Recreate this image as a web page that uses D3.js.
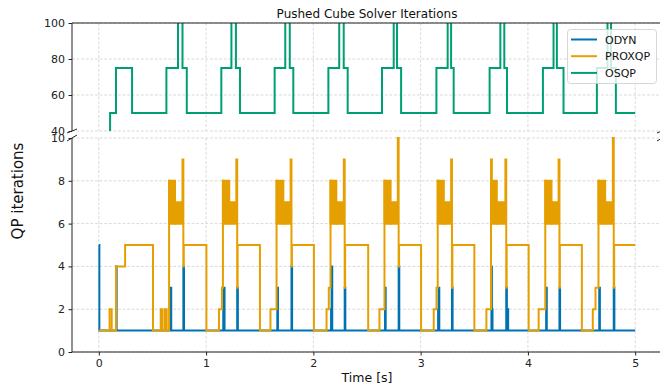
<!DOCTYPE html>
<html><head><meta charset="utf-8">
<script src="https://cdn.jsdelivr.net/npm/d3@7"></script>
<style>body{margin:0;background:#fff}svg{display:block}text{font-family:"DejaVu Sans",sans-serif}</style>
</head><body><svg id="c" width="660" height="383"></svg>
<script>
const title = "Pushed Cube Solver Iterations";
const xLabel = "Time [s]";
const yLabel = "QP iterations";
const seriesNames = ["ODYN", "PROXQP", "OSQP"];
const seriesColors = ["#0072b2", "#e69f00", "#009e73"];
const xTicks = [0, 1, 2, 3, 4, 5];
const topTicks = [40, 60, 80, 100];
const botTicks = [0, 2, 4, 6, 8, 10];

// step change points [time, value]
const odynSteps = [[0,5],[0.005,1],[0.16,4],[0.166,1],[0.665,2],[0.669,3],[0.675,1],[0.788,4],[0.794,1],
 [1.16,2],[1.166,3],[1.172,1],[1.29,3],[1.296,1],[1.664,3],[1.67,1],[1.796,4],[1.802,1],
 [2.165,2],[2.17,4],[2.176,1],[2.292,3],[2.298,1],[2.668,3],[2.674,1],[2.795,4],[2.801,1],
 [3.163,2],[3.168,3],[3.174,1],[3.292,3],[3.298,1],[3.66,4],[3.664,2],[3.67,1],[3.798,3],[3.804,1],[3.81,2],[3.816,1],
 [4.17,3],[4.176,1],[4.294,3],[4.3,1],[4.665,3],[4.671,1],[4.80,3],[4.806,1],[5.0,1]];

const proxqpSteps = [[0,1],[0.10,2],[0.12,1],[0.16,4],[0.245,5],[0.505,1],
 [0.577,2],[0.593,1],[0.615,2],[0.633,1],[0.655,8],[0.66,6],[0.78,9],[0.788,4],[0.792,5],[1.003,1],
 [1.12,2],[1.148,3],[1.157,8],[1.162,6],[1.282,9],[1.29,3],[1.294,5],[1.502,1],
 [1.60,2],[1.657,8],[1.662,6],[1.788,9],[1.796,4],[1.80,5],[2.005,1],
 [2.123,2],[2.144,3],[2.16,8],[2.165,6],[2.284,9],[2.292,3],[2.296,5],[2.511,1],
 [2.616,2],[2.663,8],[2.668,6],[2.787,10],[2.795,4],[2.799,5],[3.004,1],
 [3.122,2],[3.148,3],[3.159,8],[3.164,6],[3.284,9],[3.292,3],[3.296,5],[3.501,1],
 [3.613,2],[3.656,9],[3.664,6],[3.79,9],[3.798,3],[3.802,5],[4.007,1],
 [4.10,2],[4.162,8],[4.167,6],[4.286,9],[4.294,3],[4.298,5],[4.503,1],
 [4.605,2],[4.63,3],[4.658,8],[4.663,6],[4.792,10],[4.80,3],[4.804,5],[5.0,5]];

// rapid oscillation bands of PROXQP: [start, end, low, high]
const proxqpBands = [[0.655,0.71,6,8],[0.71,0.78,6,7],[1.157,1.216,6,8],[1.216,1.282,6,7],
 [1.657,1.72,6,8],[1.72,1.788,6,7],[2.16,2.214,6,8],[2.214,2.284,6,7],
 [2.663,2.72,6,8],[2.72,2.787,6,7],[3.159,3.216,6,8],[3.216,3.284,6,7],
 [3.656,3.71,6,8],[3.71,3.79,6,7],[4.162,4.22,6,8],[4.22,4.286,6,7],
 [4.658,4.72,6,8],[4.72,4.792,6,7]];

const osqpSteps = [[0.10,30],[0.105,50],[0.16,75],[0.31,50],[0.63,75],[0.738,120],[0.78,75],[0.82,50],
 [1.142,75],[1.236,120],[1.278,75],[1.316,50],[1.639,75],[1.738,120],[1.78,75],[1.813,50],
 [2.14,75],[2.241,120],[2.283,75],[2.32,50],[2.64,75],[2.749,120],[2.78,75],[2.818,50],
 [3.147,75],[3.252,120],[3.284,75],[3.308,50],[3.643,75],[3.743,120],[3.78,75],[3.805,50],
 [4.14,75],[4.239,120],[4.27,75],[4.332,50],[4.643,75],[4.742,120],[4.775,75],[4.82,50],[5.0,50]];

const svg = d3.select("#c");
const L = 72, R = 662, TT = 23, TB = 131, BT = 138, BB = 352;
const x = d3.scaleLinear().domain([-0.25, 5.25]).range([L, R]);
const yTop = d3.scaleLinear().domain([40, 100]).range([TB, TT]);
const yBot = d3.scaleLinear().domain([0, 10]).range([BB, BT]);

const defs = svg.append("defs");
defs.append("clipPath").attr("id","clipT").append("rect").attr("x",L).attr("y",TT).attr("width",R-L).attr("height",TB-TT);
defs.append("clipPath").attr("id","clipB").append("rect").attr("x",L).attr("y",BT-1).attr("width",R-L).attr("height",BB-BT+1);

function grid(y, ticks, top, bot) {
  const g = svg.append("g").attr("stroke","#cfcfcf").attr("stroke-width",0.8).attr("stroke-dasharray","2.8,1.8");
  g.selectAll(".gx").data(xTicks).join("line").attr("x1",d=>x(d)).attr("x2",d=>x(d)).attr("y1",top).attr("y2",bot);
  g.selectAll(".gy").data(ticks).join("line").attr("x1",L).attr("x2",R).attr("y1",d=>y(d)).attr("y2",d=>y(d));
}
grid(yTop, topTicks, TT, TB);
grid(yBot, botTicks, BT, BB);

const stepLine = (y) => d3.line().x(d=>x(d[0])).y(d=>y(d[1])).curve(d3.curveStepAfter);

const gB = svg.append("g").attr("clip-path","url(#clipB)");
gB.append("path").datum(odynSteps).attr("d", stepLine(yBot)).attr("fill","none").attr("stroke",seriesColors[0]).attr("stroke-width",2);
gB.append("path").datum(proxqpSteps).attr("d", stepLine(yBot)).attr("fill","none").attr("stroke",seriesColors[1]).attr("stroke-width",2);
const band = d3.area().x(d=>x(d.t)).y0(d=>yBot(d.lo)).y1(d=>yBot(d.hi));
gB.selectAll(".band").data(proxqpBands).join("path")
  .attr("d", b => band([{t:b[0],lo:b[2],hi:b[3]},{t:b[1],lo:b[2],hi:b[3]}]))
  .attr("fill",seriesColors[1]).attr("stroke",seriesColors[1]).attr("stroke-width",2);

const gT = svg.append("g").attr("clip-path","url(#clipT)");
gT.append("path").datum(osqpSteps).attr("d", stepLine(yTop)).attr("fill","none").attr("stroke",seriesColors[2]).attr("stroke-width",2);

// axes
const axCol = "#222";
function styleAxis(g){ g.select(".domain").remove(); g.selectAll("line").attr("stroke",axCol); g.selectAll("text").attr("fill",axCol).style("font-size","11px").style("font-family","DejaVu Sans"); }
svg.append("g").attr("transform",`translate(${L},0)`).call(d3.axisLeft(yTop).tickValues(topTicks).tickSize(3.5).tickPadding(3.5)).call(styleAxis);
svg.append("g").attr("transform",`translate(${L},0)`).call(d3.axisLeft(yBot).tickValues(botTicks).tickSize(3.5).tickPadding(3.5)).call(styleAxis);
svg.append("g").attr("transform",`translate(0,${BB})`).call(d3.axisBottom(x).tickValues(xTicks).tickFormat(d3.format("d")).tickSize(3.5).tickPadding(3.5)).call(styleAxis);

// spines
const sp = svg.append("g").attr("stroke",axCol).attr("stroke-width",1).attr("fill","none");
sp.append("line").attr("x1",L).attr("x2",L).attr("y1",TT).attr("y2",TB);
sp.append("line").attr("x1",L).attr("x2",R).attr("y1",TT).attr("y2",TT);
sp.append("line").attr("x1",L).attr("x2",L).attr("y1",BT).attr("y2",BB);
sp.append("line").attr("x1",L).attr("x2",R).attr("y1",BB).attr("y2",BB);
// break marks
[[L,TB,2],[R,TB,2],[L,BT,3],[R,BT,3]].forEach(([cx,cy,dy])=>{
  sp.append("line").attr("x1",cx-5).attr("y1",cy+dy).attr("x2",cx+5).attr("y2",cy-dy);
});

// title & labels
svg.append("text").attr("x",(L+R)/2).attr("y",18).attr("text-anchor","middle").style("font-size","12px").attr("fill","#111").text(title);
svg.append("text").attr("x",367).attr("y",382).attr("text-anchor","middle").style("font-size","12.5px").attr("fill","#111").text(xLabel);
svg.append("text").attr("transform","translate(23,191) rotate(-90)").attr("text-anchor","middle").style("font-size","15px").attr("fill","#111").text(yLabel);

// legend
const lg = svg.append("g");
lg.append("rect").attr("x",567.5).attr("y",29.5).attr("width",89).attr("height",54).attr("rx",3)
  .attr("fill","white").attr("fill-opacity",0.8).attr("stroke","#cccccc").attr("stroke-width",0.8);
seriesNames.forEach((n,i)=>{
  const yy = 39.5 + i*16.7;
  lg.append("line").attr("x1",571).attr("x2",597).attr("y1",yy).attr("y2",yy).attr("stroke",seriesColors[i]).attr("stroke-width",2);
  lg.append("text").attr("x",605).attr("y",yy+4).style("font-size","11px").attr("fill","#111").text(n);
});
</script></body></html>
